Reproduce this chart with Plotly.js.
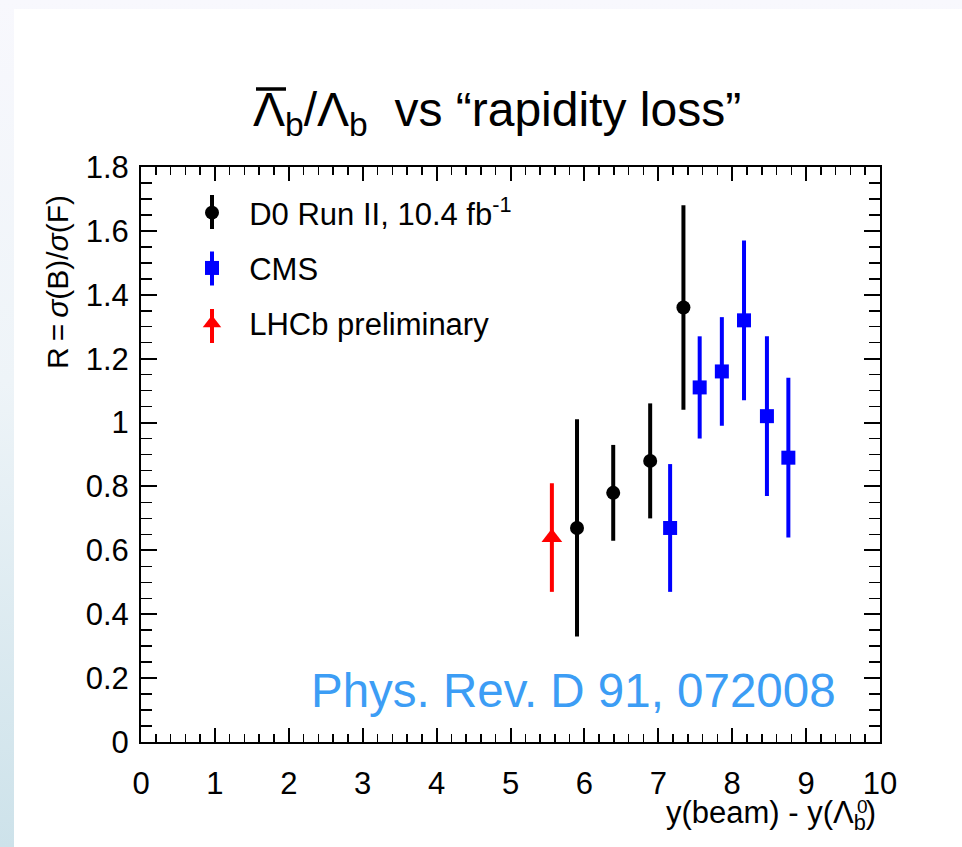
<!DOCTYPE html>
<html><head><meta charset="utf-8">
<script src="https://cdn.plot.ly/plotly-3.0.1.min.js"></script>
<style>
html,body{margin:0;padding:0;width:962px;height:847px;overflow:hidden;
background:linear-gradient(to bottom,#f8f8fd 0%,#eef4f8 45%,#cde2ea 100%);}
#plot{position:absolute;left:14px;top:9px;width:948px;height:838px;background:#fff;}
</style></head><body><div id="plot"></div>
<script>
// ---- data ----
const d0Name = "\u00a0\u00a0D0 Run II, 10.4 fb<sup>-1</sup>";
const d0X   = [5.90, 6.39, 6.89, 7.34];
const d0Y   = [0.67, 0.78, 0.88, 1.36];
const d0Err = [0.34, 0.15, 0.18, 0.32];

const cmsName = "\u00a0\u00a0CMS";
const cmsX   = [7.16, 7.56, 7.86, 8.16, 8.47, 8.76];
const cmsY   = [0.67, 1.11, 1.16, 1.32, 1.02, 0.89];
const cmsErr = [0.20, 0.16, 0.17, 0.25, 0.25, 0.25];

const lhcbName = "\u00a0\u00a0LHCb preliminary";
const lhcbX   = [5.56];
const lhcbY   = [0.64];
const lhcbErr = [0.17];

const titleText = "\u039B<sub>b</sub>/\u039B<sub>b</sub>\u00a0\u00a0vs \u201Crapidity loss\u201D";
const xTitleText = "y(beam) - y(\u039B<sub>b</sub>)";
const yTitleText = "R\u2009=\u2009<i>\u03C3</i>(B)/<i>\u03C3</i>(F)";
const refText = "Phys. Rev. D 91, 072008";

// ---- layout geometry (div coords) ----
const W = 948, H = 838;
const L = 127, R = 866, T = 158, B = 733;
const px = x => (x - L) / (R - L);
const py = y => (B - y) / (B - T);
const FONT = "Liberation Sans, Arial, Helvetica, sans-serif";

function trace(name, x, y, err, color, symbol, size, grp) {
  return {
    type: "scatter", mode: "markers", name: name, x: x, y: y,
    legendgroup: grp,
    marker: {color: color, symbol: symbol, size: size, line: {width: 0}},
    error_y: {type: "data", array: err, visible: true, color: color, thickness: 4, width: 0},
    cliponaxis: false
  };
}

const data = [
  trace(d0Name, d0X, d0Y, d0Err, "#000000", "circle", 14, "a"),
  trace(cmsName, cmsX, cmsY, cmsErr, "#0000ff", "square", 14, "b"),
  trace(lhcbName, lhcbX, lhcbY, lhcbErr, "#ff0000", "triangle-up", 18, "c")
];

const axisCommon = {
  showgrid: false, zeroline: false, showline: true, linecolor: "#000", linewidth: 2,
  mirror: "allticks", ticks: "inside", tickcolor: "#000", tickwidth: 2,
  tickfont: {family: FONT, size: 31, color: "#000"}
};

// legend row centres (div px) for the error-bar strokes drawn through the legend symbols
const legRows = [[203, "#000000"], [259.5, "#0000ff"], [317, "#ff0000"]];
const legShapes = legRows.map(r => ({
  type: "line", xref: "paper", yref: "paper", layer: "above",
  x0: px(198), x1: px(198), y0: py(r[0] - 17), y1: py(r[0] + 17),
  line: {color: r[1], width: 4}
}));

const layout = {
  width: W, height: H,
  paper_bgcolor: "#ffffff", plot_bgcolor: "#ffffff",
  margin: {l: L, r: W - R, t: T, b: H - B, pad: 0},
  showlegend: true,
  title: {text: titleText, x: 483 / W, xanchor: "center", xref: "container",
          y: 1 - 100.5 / H, yanchor: "middle", yref: "container",
          font: {family: FONT, size: 48, color: "#000"}},
  xaxis: Object.assign({}, axisCommon, {
    range: [0, 10], tickmode: "linear", tick0: 0, dtick: 1, ticklen: 14,
    ticklabelstandoff: 13,
    minor: {dtick: 0.2, ticklen: 8, tickwidth: 1.5, tickcolor: "#000", ticks: "inside"}
  }),
  yaxis: Object.assign({}, axisCommon, {
    range: [0, 1.8], tickmode: "linear", tick0: 0, dtick: 0.2, ticklen: 16,
    ticklabelstandoff: 4,
    minor: {dtick: 0.05, ticklen: 11, tickwidth: 1.5, tickcolor: "#000", ticks: "inside"}
  }),
  legend: {
    x: px(178), y: py(177), xanchor: "left", yanchor: "top",
    bgcolor: "rgba(0,0,0,0)", borderwidth: 0,
    font: {family: FONT, size: 31, color: "#000"},
    traceorder: "grouped", tracegroupgap: 12, itemsizing: "trace"
  },
  shapes: legShapes.concat([
    // overbar of the anti-Lambda in the title
    {type: "line", xref: "paper", yref: "paper", layer: "above",
     x0: px(242), x1: px(272), y0: py(80), y1: py(80),
     line: {color: "#000", width: 3.5}}
  ]),
  annotations: [
    {text: refText, xref: "paper", yref: "paper", x: px(824), y: py(681),
     xanchor: "right", yanchor: "middle", showarrow: false,
     font: {family: FONT, size: 47.5, color: "#3c9df5"}},
    {text: xTitleText, xref: "paper", yref: "paper", x: px(864), y: py(806),
     xanchor: "right", yanchor: "middle", showarrow: false,
     font: {family: FONT, size: 31, color: "#000"}},
    {text: "0", xref: "paper", yref: "paper", x: px(848), y: py(797),
     xanchor: "center", yanchor: "middle", showarrow: false,
     font: {family: FONT, size: 19, color: "#000"}},
    {text: yTitleText, xref: "paper", yref: "paper", x: px(43), y: py(273),
     xanchor: "center", yanchor: "middle", textangle: -90, showarrow: false,
     font: {family: FONT, size: 30, color: "#000"}}
  ]
};

Plotly.newPlot("plot", data, layout, {displayModeBar: false, staticPlot: true});
</script></body></html>
